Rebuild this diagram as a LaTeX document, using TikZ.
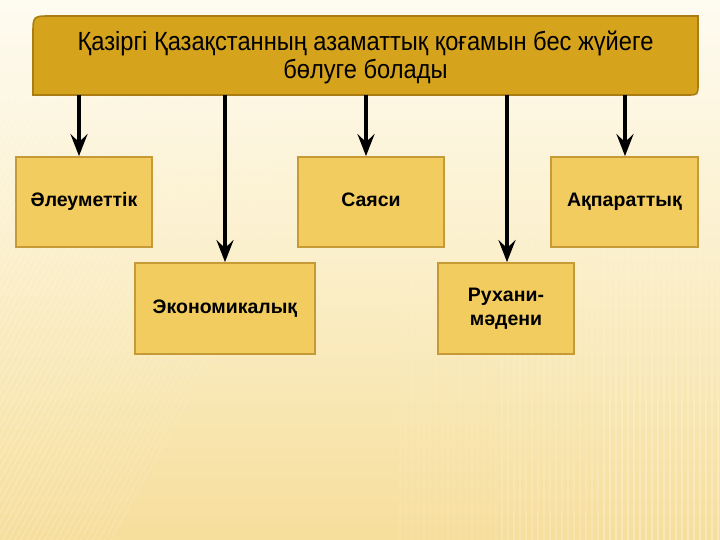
\documentclass[tikz,border=0pt]{standalone}
\usepackage{fontspec}
\setmainfont{Liberation Sans}
\newfontfamily\topfont[FakeStretch=0.9]{Liberation Sans}
\usetikzlibrary{arrows.meta,calc,fadings}
\definecolor{bgtop}{HTML}{FEFBF1}
\definecolor{bgmid}{HTML}{FBEFC9}
\definecolor{bgbot}{HTML}{F6DE9C}
\definecolor{topfill}{HTML}{D5A31C}
\definecolor{topedge}{HTML}{A97D14}
\definecolor{boxfill}{HTML}{F2CC5E}
\definecolor{boxedge}{HTML}{C79A38}
\tikzfading[name=fdiag, left color=transparent!20, right color=transparent!100]
\tikzfading[name=fvert, top color=transparent!100, bottom color=transparent!30]
\begin{document}
\begin{tikzpicture}[x=1pt,y=-1pt,
  topnode/.style={minimum width=665pt,minimum height=79pt,inner sep=0pt,align=center,
    font=\topfont\fontsize{26.3}{28}\selectfont},
  catbox/.style={draw=boxedge,line width=1.8pt,fill=boxfill,inner sep=0pt,align=center,
    font=\bfseries\fontsize{19.5}{24}\selectfont},
  oneline/.style={text height=14pt,text depth=4pt},
  arr/.style={line width=3.6pt,draw=black,-{Stealth[length=22pt,width=17pt,inset=8pt]}}]
\useasboundingbox (0,0) rectangle (720,540);
\fill[top color=bgtop,bottom color=bgbot,middle color=bgmid] (0,0) rectangle (720,540);
% faint background stripes
\begin{scope}
\clip (0,0) rectangle (720,540);
\draw[white,opacity=0.45,line width=1.3pt,path fading=fdiag]
  \foreach \i in {0,6,...,360}{ (\i-260,560) -- (\i,90) };
\draw[white,opacity=0.12,line width=1.3pt,path fading=fvert]
  \foreach \i in {400,406,...,496}{ (\i,120) -- (\i,540) };
\draw[white,opacity=0.25,line width=1.3pt,path fading=fvert]
  \foreach \i in {502,508,...,598}{ (\i,120) -- (\i,540) };
\draw[white,opacity=0.4,line width=1.3pt,path fading=fvert]
  \foreach \i in {604,610,...,720}{ (\i,120) -- (\i,540) };
\end{scope}
% top box
\fill[topfill,draw=topedge,line width=1.6pt]
  (33,95) -- (33,34) .. controls (33,16) .. (51,16) -- (698,16) -- (698,84)
  .. controls (698,95) .. (687,95) -- cycle;
\node[topnode] (top) at (365.5,57.5) {Қазіргі Қазақстанның азаматтық қоғамын бес жүйеге\\бөлуге болады};
% category boxes
\node[catbox,oneline,minimum width=136pt,minimum height=90pt] (el) at (84,202) {Әлеуметтік};
\node[catbox,oneline,minimum width=180pt,minimum height=91pt] (ek) at (225,308.5) {Экономикалық};
\node[catbox,oneline,minimum width=146pt,minimum height=90pt] (sa) at (371,202) {Саяси};
\node[catbox,minimum width=136pt,minimum height=91pt] (ru) at (506,308.5) {Рухани-\\мәдени};
\node[catbox,oneline,minimum width=147pt,minimum height=90pt] (ak) at (624.5,202) {Ақпараттық};
% connectors (start at the top box bottom edge, y=95)
\draw[arr] ([yshift=2.5pt]top.south -| 79,0) -- (el.north -| 79,0);
\draw[arr] ([yshift=2.5pt]top.south -| ek.north) -- (ek.north);
\draw[arr] ([yshift=2.5pt]top.south -| 366,0) -- (sa.north -| 366,0);
\draw[arr] ([yshift=2.5pt]top.south -| 507,0) -- (ru.north -| 507,0);
\draw[arr] ([yshift=2.5pt]top.south -| 625,0) -- (ak.north -| 625,0);
\end{tikzpicture}
\end{document}
